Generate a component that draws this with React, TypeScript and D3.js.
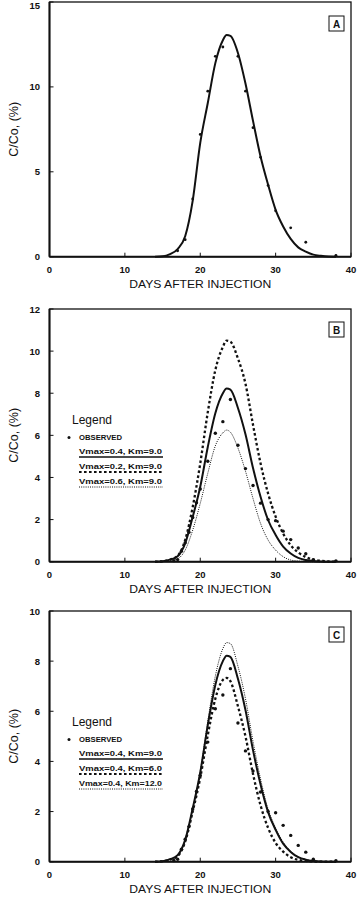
import { useEffect, useRef } from 'react';
import * as d3 from 'd3';

// model curve days (shared grid)
const fitDays = [14, 15, 16, 17, 18, 19, 20, 21, 22, 23, 23.5, 24, 25, 26, 27, 28, 29, 30, 31, 32, 33, 34, 35, 36, 37, 38];

// panel A fit
const fitA = [0, 0.02, 0.15, 0.45, 1.2, 3.3, 6.7, 9.05, 11.4, 12.75, 13.05, 13.0, 12.0, 10.2, 8.0, 5.9, 4.24, 2.76, 1.78, 1.05, 0.55, 0.3, 0.12, 0.05, 0.01, 0];
// Vmax=0.4, Km=9.0 (panels B and C)
const fitV04K9 = [0, 0.02, 0.1, 0.26, 0.87, 2.13, 3.56, 5.45, 7.05, 8.0, 8.22, 8.17, 7.3, 6.05, 4.45, 3.08, 1.98, 1.27, 0.72, 0.39, 0.18, 0.08, 0.03, 0.01, 0, 0];
// Vmax=0.2, Km=9.0
const fitV02K9 = [0, 0.02, 0.1, 0.28, 1.03, 2.6, 4.67, 7.1, 9.1, 10.2, 10.5, 10.45, 9.65, 8.45, 6.5, 4.67, 3.24, 2.14, 1.34, 0.78, 0.44, 0.22, 0.1, 0.04, 0.01, 0];
// Vmax=0.6, Km=9.0
const fitV06K9 = [0, 0.01, 0.05, 0.14, 0.55, 1.5, 2.77, 4.2, 5.5, 6.12, 6.25, 6.15, 5.4, 4.3, 3.0, 1.82, 1.03, 0.55, 0.24, 0.08, 0.03, 0.01, 0, 0, 0, 0];
// Vmax=0.4, Km=6.0
const fitV04K6 = [0, 0.02, 0.08, 0.22, 0.8, 2.0, 3.35, 5.05, 6.5, 7.25, 7.33, 7.2, 6.2, 5.0, 3.5, 2.25, 1.35, 0.75, 0.4, 0.18, 0.07, 0.03, 0.01, 0, 0, 0];
// Vmax=0.4, Km=12.0
const fitV04K12 = [0, 0.02, 0.08, 0.22, 0.85, 2.1, 3.6, 5.6, 7.4, 8.5, 8.74, 8.7, 7.8, 6.5, 4.8, 3.3, 2.1, 1.35, 0.78, 0.42, 0.2, 0.09, 0.03, 0.01, 0, 0];

// observed data
const obsADays = [17, 18, 19, 20, 21, 22, 23, 25, 26, 27, 28, 29, 30, 32, 34, 38];
const obsAValues = [0.35, 1.0, 3.4, 7.2, 9.75, 11.8, 12.35, 11.8, 9.75, 7.6, 5.85, 4.2, 2.7, 1.7, 0.85, 0.08];
const obsDays = [16.5, 17, 17.5, 18, 18.5, 19, 19.5, 20, 21, 22, 23, 24, 25, 26, 27, 28, 29, 30, 31, 32, 33, 34, 35, 38];
const obsValues = [0.05, 0.1, 0.5, 0.9, 1.4, 2.1, 2.8, 3.45, 4.77, 6.1, 6.65, 7.7, 5.53, 4.42, 3.62, 2.78, 2.0, 1.95, 1.45, 1.05, 0.65, 0.38, 0.1, 0.04];

const xTicks = [0, 10, 20, 30, 40];
const yTicksA = [0, 5, 10, 15];
const yTicksB = [0, 2, 4, 6, 8, 10, 12];
const yTicksC = [0, 2, 4, 6, 8, 10];

const legendB = ['Vmax=0.4, Km=9.0', 'Vmax=0.2, Km=9.0', 'Vmax=0.6, Km=9.0'];
const legendC = ['Vmax=0.4, Km=9.0', 'Vmax=0.4, Km=6.0', 'Vmax=0.4, Km=12.0'];

type Style = 'solid' | 'dashed' | 'dotted';

const FONT = 'Liberation Sans, Arial, sans-serif';

const styleAttrs: Record<Style, { w: number; dash: string | null }> = {
  solid: { w: 2, dash: null },
  dashed: { w: 2.3, dash: '2.6,2.4' },
  dotted: { w: 1, dash: '1,1.2' },
};

const App = () => {
  const svgRef = useRef<SVGSVGElement>(null);

  useEffect(() => {
    if (!svgRef.current) return;
    const svg = d3.select(svgRef.current);
    svg.selectAll('*').remove();

    const left = 49.5;
    const right = 351;

    const panels = [
      {
        label: 'A', top: 2, bottom: 256.7, yMax: 15, yTicks: yTicksA,
        curves: [{ values: fitA, style: 'solid' as Style }],
        obs: { days: obsADays, values: obsAValues, r: 1.4 },
        legend: null as string[] | null, boxTop: 16,
      },
      {
        label: 'B', top: 309, bottom: 561.7, yMax: 12, yTicks: yTicksB,
        curves: [
          { values: fitV04K9, style: 'solid' as Style },
          { values: fitV02K9, style: 'dashed' as Style },
          { values: fitV06K9, style: 'dotted' as Style },
        ],
        obs: { days: obsDays, values: obsValues, r: 1.7 },
        legend: legendB, boxTop: 322,
      },
      {
        label: 'C', top: 611, bottom: 861.7, yMax: 10, yTicks: yTicksC,
        curves: [
          { values: fitV04K9, style: 'solid' as Style },
          { values: fitV04K6, style: 'dashed' as Style },
          { values: fitV04K12, style: 'dotted' as Style },
        ],
        obs: { days: obsDays, values: obsValues, r: 1.7 },
        legend: legendC, boxTop: 627,
      },
    ];

    const x = d3.scaleLinear().domain([0, 40]).range([left, right]);

    panels.forEach((p) => {
      const y = d3.scaleLinear().domain([0, p.yMax]).range([p.bottom, p.top]);
      const g = svg.append('g');

      // frame
      g.append('rect')
        .attr('x', left).attr('y', p.top)
        .attr('width', right - left).attr('height', p.bottom - p.top)
        .attr('fill', 'none').attr('stroke', '#111').attr('stroke-width', 1.3);
      g.append('line').attr('x1', left).attr('x2', left).attr('y1', p.top).attr('y2', p.bottom)
        .attr('stroke', '#111').attr('stroke-width', 2);
      g.append('line').attr('x1', left).attr('x2', right).attr('y1', p.bottom).attr('y2', p.bottom)
        .attr('stroke', '#111').attr('stroke-width', 2);

      // x ticks (inward)
      xTicks.forEach((t) => {
        g.append('line').attr('x1', x(t)).attr('x2', x(t)).attr('y1', p.bottom).attr('y2', p.bottom - 4)
          .attr('stroke', '#111').attr('stroke-width', 1);
        g.append('text').attr('x', x(t)).attr('y', p.bottom + 16.5)
          .attr('text-anchor', 'middle').attr('font-family', FONT).attr('font-size', 9.5)
          .attr('font-weight', 'bold').attr('fill', '#111').text(t);
      });

      // y ticks (inward)
      p.yTicks.forEach((t) => {
        g.append('line').attr('x1', left).attr('x2', left + 4).attr('y1', y(t)).attr('y2', y(t))
          .attr('stroke', '#111').attr('stroke-width', 1);
        g.append('text').attr('x', 40).attr('y', Math.max(y(t) + 3.5, 9))
          .attr('text-anchor', 'end').attr('font-family', FONT).attr('font-size', 9.5)
          .attr('font-weight', 'bold').attr('fill', '#111').text(t);
      });

      // axis titles
      g.append('text').attr('x', (left + right) / 2).attr('y', p.bottom + 31)
        .attr('text-anchor', 'middle').attr('font-family', FONT).attr('font-size', 11.5)
        .attr('fill', '#111').attr('textLength', 142).attr('lengthAdjust', 'spacingAndGlyphs')
        .text('DAYS AFTER INJECTION');
      const cy = (p.top + p.bottom) / 2;
      g.append('text').attr('transform', `translate(18,${cy}) rotate(-90)`)
        .attr('text-anchor', 'middle').attr('font-family', FONT).attr('font-size', 12.5)
        .attr('fill', '#111').text('C/Co, (%)');

      // panel label box
      g.append('rect').attr('x', 329).attr('y', p.boxTop).attr('width', 15).attr('height', 15)
        .attr('fill', 'white').attr('stroke', '#111').attr('stroke-width', 1);
      g.append('text').attr('x', 336.5).attr('y', p.boxTop + 11.5).attr('text-anchor', 'middle')
        .attr('font-family', FONT).attr('font-size', 10).attr('font-weight', 'bold')
        .attr('fill', '#111').text(p.label);

      // curves
      const line = d3.line<[number, number]>()
        .x((d) => x(d[0])).y((d) => y(d[1]))
        .curve(d3.curveMonotoneX);
      p.curves.forEach((c) => {
        const pts = fitDays.map((d, i) => [d, c.values[i]] as [number, number]);
        const s = styleAttrs[c.style];
        const path = g.append('path').attr('d', line(pts) ?? '')
          .attr('fill', 'none').attr('stroke', '#111').attr('stroke-width', s.w);
        if (s.dash) path.attr('stroke-dasharray', s.dash);
      });

      // observed points
      p.obs.days.forEach((d, i) => {
        g.append('circle').attr('cx', x(d)).attr('cy', y(p.obs.values[i])).attr('r', p.obs.r)
          .attr('fill', '#111');
      });

      // legend
      if (p.legend) {
        const lt = p.top;
        g.append('text').attr('x', 72).attr('y', lt + 115).attr('font-family', FONT)
          .attr('font-size', 12).attr('fill', '#111').text('Legend');
        g.append('circle').attr('cx', 69).attr('cy', lt + 128.5).attr('r', 1.5).attr('fill', '#111');
        g.append('text').attr('x', 79).attr('y', lt + 131).attr('font-family', FONT)
          .attr('font-size', 6.5).attr('font-weight', 'bold').attr('fill', '#111')
          .attr('textLength', 43).attr('lengthAdjust', 'spacingAndGlyphs').text('OBSERVED');
        const styles: Style[] = ['solid', 'dashed', 'dotted'];
        p.legend.forEach((txt, i) => {
          const by = lt + 145 + i * 15;
          g.append('text').attr('x', 79).attr('y', by).attr('font-family', FONT)
            .attr('font-size', 7).attr('font-weight', 'bold').attr('fill', '#111')
            .attr('textLength', 83).attr('lengthAdjust', 'spacingAndGlyphs').text(txt);
          const s = styleAttrs[styles[i]];
          const ul = g.append('line').attr('x1', 79).attr('x2', 163)
            .attr('y1', by + 3).attr('y2', by + 3)
            .attr('stroke', '#111').attr('stroke-width', styles[i] === 'dotted' ? 1 : styles[i] === 'dashed' ? 1.8 : 1.6);
          if (s.dash) ul.attr('stroke-dasharray', s.dash);
        });
      }
    });
  }, []);

  return (
    <svg
      ref={svgRef}
      width={357}
      height={897}
      style={{ position: 'absolute', left: 0, top: 0, background: 'white' }}
    />
  );
};

export default App;
